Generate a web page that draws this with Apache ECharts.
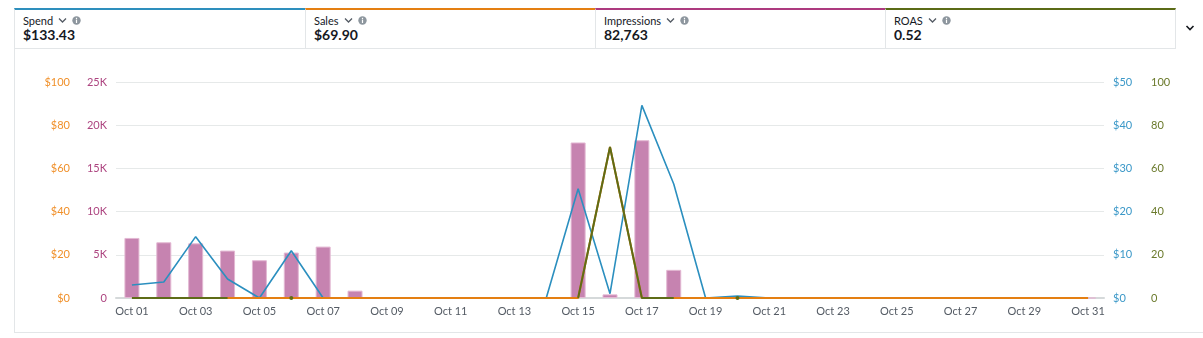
<!DOCTYPE html>
<html>
<head>
<meta charset="utf-8">
<script src="https://cdn.jsdelivr.net/npm/echarts@6/dist/echarts.min.js"></script>
<style>
  html, body { margin: 0; padding: 0; background: #fff; width: 1203px; height: 338px; overflow: hidden; font-family: Lato, "Open Sans", sans-serif; color: #16191f; }
  #chart { position: absolute; left: 0; top: 0; width: 1203px; height: 338px; }
  .panel { position: absolute; left: 14px; top: 48px; width: 1189px; height: 285px; border-left: 1px solid #e3e6e8; border-bottom: 1px solid #e3e6e8; box-sizing: border-box; }
  .card { position: absolute; top: 8px; height: 41px; box-sizing: border-box; border: 1px solid #e3e6e8; border-top-width: 2px; background: #fff; }
  .card .name { position: absolute; left: 8px; top: 4px; font-size: 11px; color: #16191f; display: flex; align-items: center; }
  .card .name svg { margin-left: 5px; }
  .card .val { position: absolute; left: 8px; top: 16px; font-size: 14px; font-weight: 700; color: #16191f; }
  .more { position: absolute; left: 1185px; top: 24px; }
</style>
</head>
<body>
<div class="panel"></div>
<div id="chart"></div>
<div id="cards"></div>
<svg class="more" width="10" height="8" viewBox="0 0 10 8"><path d="M1.5 2 L5 5.5 L8.5 2" fill="none" stroke="#16191f" stroke-width="1.6"/></svg>
<script>
// Daily metrics for October
const days = ['Oct 01','Oct 02','Oct 03','Oct 04','Oct 05','Oct 06','Oct 07','Oct 08','Oct 09','Oct 10',
              'Oct 11','Oct 12','Oct 13','Oct 14','Oct 15','Oct 16','Oct 17','Oct 18','Oct 19','Oct 20',
              'Oct 21','Oct 22','Oct 23','Oct 24','Oct 25','Oct 26','Oct 27','Oct 28','Oct 29','Oct 30','Oct 31'];

const impressions = [6950, 6450, 6330, 5490, 4370, 5260, 5950, 850, 0, 0,
                     0, 0, 0, 0, 18000, 420, 18260, 3260, 0, 0,
                     0, 0, 0, 0, 0, 0, 0, 0, 0, 0, 0];

const spend = [3.0, 3.7, 14.2, 4.4, 0, 10.95, 0, 0, 0, 0,
               0, 0, 0, 0, 25.3, 1.0, 44.6, 26.4, 0, 0.45,
               0, 0, 0, 0, 0, 0, 0, 0, 0, 0, 0];

const sales = [0, 0, 0, 0, 0, 0, 0, 0, 0, 0,
               0, 0, 0, 0, 0, 69.90, 0, 0, 0, 0,
               0, 0, 0, 0, 0, 0, 0, 0, 0, 0, 0];

// ROAS is undefined on days without spend
const roas = [0, 0, 0, 0, null, 0, null, null, null, null,
              null, null, null, null, 0, 69.90, 0, 0, null, 0,
              null, null, null, null, null, null, null, null, null, null, null];

// Summary cards
const cardNames = ['Spend', 'Sales', 'Impressions', 'ROAS'];
const cardValues = ['$133.43', '$69.90', '82,763', '0.52'];
const cardColors = ['#2e8fbd', '#e47f12', '#ad3a7f', '#5b6b17'];
const cardLefts = [14, 305, 595, 885];
const cardWidths = [292, 291, 291, 291];

const chevron = '<svg width="9" height="7" viewBox="0 0 9 7"><path d="M1 1.5 L4.5 5 L8 1.5" fill="none" stroke="#545b64" stroke-width="1.3"/></svg>';
const info = '<svg width="9" height="9" viewBox="0 0 9 9"><circle cx="4.5" cy="4.5" r="4.2" fill="#8d969e"/><rect x="3.9" y="3.6" width="1.2" height="3.4" fill="#fff"/><rect x="3.9" y="1.8" width="1.2" height="1.2" fill="#fff"/></svg>';

const cardsEl = document.getElementById('cards');
cardNames.forEach((n, i) => {
  const c = document.createElement('div');
  c.className = 'card';
  c.style.left = cardLefts[i] + 'px';
  c.style.width = cardWidths[i] + 'px';
  c.style.borderTopColor = cardColors[i];
  c.innerHTML = '<div class="name">' + n + chevron + info + '</div><div class="val">' + cardValues[i] + '</div>';
  cardsEl.appendChild(c);
});

const font = 'Lato, "Open Sans", sans-serif';
const chart = echarts.init(document.getElementById('chart'), null, { renderer: 'canvas' });

// Isolated ROAS points get a dot so they stay visible between gaps
function isolated(idx) {
  const prev = idx > 0 ? roas[idx - 1] : null;
  const next = idx < roas.length - 1 ? roas[idx + 1] : null;
  return roas[idx] != null && prev == null && next == null;
}

chart.setOption({
  animation: false,
  textStyle: { fontFamily: font },
  grid: { left: 116, right: 99, top: 82, bottom: 40 },
  xAxis: {
    type: 'category',
    data: days,
    boundaryGap: true,
    axisTick: { show: false },
    axisLine: { lineStyle: { color: '#d5d9da', width: 2 } },
    axisLabel: { interval: 1, color: '#545b64', fontSize: 11, margin: 8, fontFamily: font }
  },
  yAxis: [
    {
      type: 'value', position: 'left', offset: 38, min: 0, max: 100, interval: 20,
      axisLine: { show: false }, axisTick: { show: false },
      axisLabel: { color: '#f0902a', fontSize: 11, margin: 8, fontFamily: font, formatter: v => '$' + v },
      splitLine: { show: true, lineStyle: { color: '#e6e9e9', width: 1 } }
    },
    {
      type: 'value', position: 'left', offset: 0, min: 0, max: 25000, interval: 5000,
      axisLine: { show: false }, axisTick: { show: false },
      axisLabel: { color: '#ad4580', fontSize: 11, margin: 9, fontFamily: font, formatter: v => v === 0 ? '0' : (v / 1000) + 'K' },
      splitLine: { show: false }
    },
    {
      type: 'value', position: 'right', offset: 0, min: 0, max: 50, interval: 10,
      axisLine: { show: false }, axisTick: { show: false },
      axisLabel: { color: '#3b98c8', fontSize: 11, margin: 9, fontFamily: font, formatter: v => '$' + v },
      splitLine: { show: false }
    },
    {
      type: 'value', position: 'right', offset: 38, min: 0, max: 100, interval: 20,
      axisLine: { show: false }, axisTick: { show: false },
      axisLabel: { color: '#6b7a2c', fontSize: 11, margin: 9, fontFamily: font },
      splitLine: { show: false }
    }
  ],
  series: [
    {
      name: 'Impressions', type: 'bar', yAxisIndex: 1, data: impressions, barWidth: 15, z: 1,
      itemStyle: { color: '#c683b0', borderColor: '#e3b8d3', borderWidth: 1 }
    },
    {
      name: 'Spend', type: 'line', yAxisIndex: 2, data: spend, z: 2,
      showSymbol: false, lineStyle: { color: '#2b8fbf', width: 1.6 }, itemStyle: { color: '#2b8fbf' }
    },
    {
      name: 'Sales', type: 'line', yAxisIndex: 0, data: sales, z: 3,
      showSymbol: false, lineStyle: { color: '#e47f12', width: 2 }, itemStyle: { color: '#e47f12' }
    },
    {
      name: 'ROAS', type: 'line', yAxisIndex: 3, z: 4,
      data: roas.map((v, i) => ({ value: v, symbol: isolated(i) ? 'circle' : 'none', symbolSize: 4 })),
      showSymbol: true, showAllSymbol: true, connectNulls: false,
      lineStyle: { color: '#5e6c17', width: 2 }, itemStyle: { color: '#5e6c17' }
    }
  ]
});
</script>
</body>
</html>
